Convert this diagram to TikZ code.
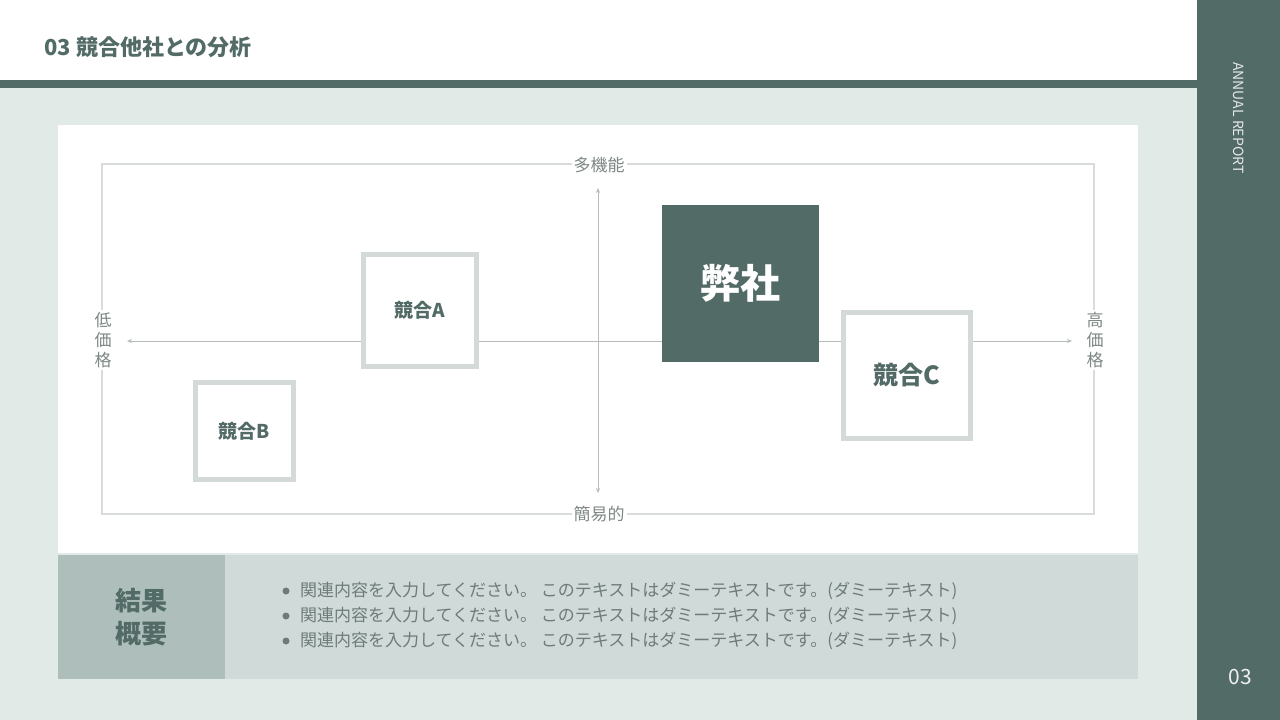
\documentclass[tikz,border=0pt]{standalone}
\usepackage{fontspec}
\setmainfont{Noto Sans CJK JP}
\newfontfamily\jpbold{Noto Sans CJK JP Bold}
\usetikzlibrary{arrows.meta}
\definecolor{bg}{HTML}{E2EAE8}
\definecolor{dark}{HTML}{536B66}
\definecolor{frameg}{HTML}{D8DCDB}
\definecolor{boxb}{HTML}{D3DAD8}
\definecolor{axisg}{HTML}{B5BCBA}
\definecolor{labg}{HTML}{7E8886}
\definecolor{sumL}{HTML}{AEBFBB}
\definecolor{sumR}{HTML}{D0DAD8}
\definecolor{txtg}{HTML}{6E7C79}
\tikzset{
 comp/.style={draw=boxb,line width=5pt,fill=white,inner sep=0pt,text=dark,font=\fontsize{19}{19}\selectfont\bfseries},
 axlab/.style={text=labg,font=\fontsize{17}{17}\selectfont,fill=white,inner sep=2pt},
 bul/.style={anchor=west,text=txtg,font=\fontsize{17}{17}\selectfont,inner sep=0pt}
}
\begin{document}
\begin{tikzpicture}[x=1pt,y=-1pt]
\useasboundingbox (0,0) rectangle (1280,720);
\fill[bg] (0,0) rectangle (1280,720);
\fill[white] (0,0) rectangle (1197,80);
\fill[dark] (0,80) rectangle (1197,88);
\fill[dark] (1197,0) rectangle (1280,720);
\node[anchor=west,text=dark,font=\fontsize{22}{22}\selectfont\bfseries,inner sep=0pt] (title) at (44,47) {03 競合他社との分析};
\node[rotate=-90,anchor=west,text=white!85!dark,font=\fontsize{14}{14}\selectfont,inner sep=0pt] (ar) at (1239,62) {ANNUAL REPORT};
\node[text=white!90!dark,font=\fontsize{21}{21}\selectfont,inner sep=0pt] (pg) at (1240,677) {03};
\fill[white] (58,125) rectangle (1138,553);
\draw[frameg,line width=1.2pt] (102,164) rectangle (1094,514);
\coordinate (xl) at (127,341); \coordinate (xr) at (1072,341);
\coordinate (yt) at (598,188); \coordinate (yb) at (598,493);
\draw[axisg,line width=1pt,{Stealth[length=5pt,width=4pt]}-{Stealth[length=5pt,width=4pt]}] (xl) -- (xr);
\draw[axisg,line width=1pt,{Stealth[length=5pt,width=4pt]}-{Stealth[length=5pt,width=4pt]}] (yt) -- (yb);
\node[axlab] (top) at (599,165) {多機能};
\node[axlab] (bot) at (599,514) {簡易的};
\node[axlab,align=center,font=\fontsize{17}{20}\selectfont] (lo) at (103,340) {低\\価\\格};
\node[axlab,align=center,font=\fontsize{17}{20}\selectfont] (hi) at (1095,340) {高\\価\\格};
\node[comp,minimum width=113pt,minimum height=112pt] (A) at (420,310.5) {競合A};
\node[comp,minimum width=98pt,minimum height=97pt] (B) at (244.5,431) {競合B};
\node[comp,minimum width=127pt,minimum height=126pt,font=\fontsize{25}{25}\selectfont\bfseries] (C) at (907,375.5) {競合C};
\node[fill=dark,minimum width=157pt,minimum height=157pt,inner sep=0pt,text=white,font=\fontsize{40}{40}\selectfont\bfseries] (us) at (740.5,283.5) {弊社};
\fill[sumL] (58,555) rectangle (225,679);
\fill[sumR] (225,555) rectangle (1138,679);
\node[align=center,text=dark,font=\fontsize{26}{33}\selectfont\bfseries] (sum) at (141.5,617) {結果\\概要};
\foreach \y/\n in {591/b1,616/b2,641/b3}{
 \fill[txtg] (286,\y) circle (3.5pt);
 \node[bul] (\n) at (300,\y) {関連内容を入力してください。 このテキストはダミーテキストです。(ダミーテキスト)};
}
\end{tikzpicture}
\end{document}
